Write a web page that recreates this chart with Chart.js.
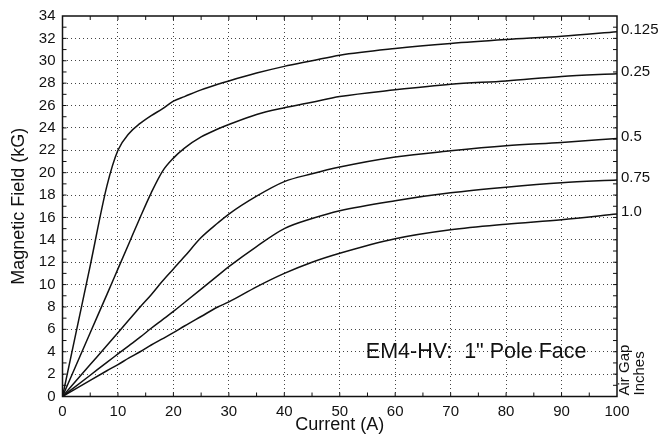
<!DOCTYPE html>
<html>
<head>
<meta charset="utf-8">
<script src="https://cdn.jsdelivr.net/npm/chart.js@4.4.0/dist/chart.umd.min.js"></script>
<style>
  html, body { margin: 0; padding: 0; background: #fff; }
  #chart { display: block; }
</style>
</head>
<body>
<canvas id="chart" width="666" height="436"></canvas>
<script>
// air gap (inches) for each curve
const gapLabels = ['0.125', '0.25', '0.5', '0.75', '1.0'];

// coil current (A)
const current = [0, 5, 8, 10, 12, 14, 16, 18, 20, 22, 25, 28, 30, 35, 40, 45, 50, 60, 70, 80, 90, 100];

// magnetic field (kG)
const field0125 = [0, 11.7, 18.8, 22.0, 23.5, 24.4, 25.1, 25.7, 26.4, 26.8, 27.4, 27.9, 28.2, 28.9, 29.5, 30.0, 30.5, 31.1, 31.55, 31.9, 32.2, 32.6];
const field025  = [0, 5.7, 9.1, 11.4, 13.7, 16.0, 18.2, 20.1, 21.3, 22.2, 23.2, 23.9, 24.3, 25.2, 25.8, 26.3, 26.8, 27.4, 27.9, 28.2, 28.6, 28.85];
const field05   = [0, 2.85, 4.55, 5.7, 6.85, 8.0, 9.1, 10.3, 11.4, 12.5, 14.2, 15.5, 16.3, 17.9, 19.2, 19.9, 20.5, 21.4, 21.95, 22.4, 22.7, 23.05];
const field075  = [0, 1.9, 3.05, 3.8, 4.55, 5.3, 6.1, 6.85, 7.6, 8.4, 9.6, 10.8, 11.6, 13.4, 15.0, 15.9, 16.6, 17.5, 18.2, 18.7, 19.1, 19.35];
const field10   = [0, 1.45, 2.3, 2.85, 3.45, 4.0, 4.6, 5.15, 5.7, 6.3, 7.15, 8.0, 8.45, 9.8, 11.0, 12.0, 12.8, 14.1, 14.9, 15.4, 15.8, 16.3];

const allFields = [field0125, field025, field05, field075, field10];

const FONT = 'Liberation Sans, Arial, sans-serif';

function toPoints(ys) {
  return current.map((x, i) => ({ x: x, y: ys[i] }));
}

const datasets = allFields.map((ys, i) => ({
  label: gapLabels[i],
  data: toPoints(ys),
  borderColor: '#111',
  borderWidth: 1.5,
  pointRadius: 0,
  fill: false,
  cubicInterpolationMode: 'monotone'
}));

// white background, frame with inside ticks, right-hand labels and the note
const decorations = {
  id: 'decorations',
  beforeDraw(chart) {
    const ctx = chart.ctx;
    ctx.save();
    ctx.fillStyle = '#fff';
    ctx.fillRect(0, 0, chart.width, chart.height);
    ctx.restore();
  },
  afterDraw(chart) {
    const ctx = chart.ctx;
    const a = chart.chartArea;
    const xs = chart.scales.x;
    const ys = chart.scales.y;
    ctx.save();

    // frame
    ctx.strokeStyle = '#111';
    ctx.lineWidth = 1.5;
    ctx.strokeRect(a.left, a.top, a.right - a.left, a.bottom - a.top);

    // inner tick marks
    ctx.lineWidth = 1;
    ctx.beginPath();
    for (let v = 5; v < 100; v += 5) {
      const px = xs.getPixelForValue(v);
      ctx.moveTo(px, a.bottom); ctx.lineTo(px, a.bottom - 4);
      ctx.moveTo(px, a.top); ctx.lineTo(px, a.top + 4);
    }
    for (let v = 1; v < 34; v += 1) {
      const py = ys.getPixelForValue(v);
      ctx.moveTo(a.left, py); ctx.lineTo(a.left + 4, py);
      ctx.moveTo(a.right, py); ctx.lineTo(a.right - 4, py);
    }
    ctx.stroke();

    // air gap labels at curve ends
    ctx.fillStyle = '#111';
    ctx.font = '15px ' + FONT;
    ctx.textAlign = 'left';
    ctx.textBaseline = 'middle';
    allFields.forEach((ys2, i) => {
      const py = ys.getPixelForValue(ys2[ys2.length - 1]);
      ctx.fillText(gapLabels[i], a.right + 4, py - 2);
    });

    // rotated "Air Gap / Inches"
    ctx.save();
    ctx.translate(625, a.bottom - 1);
    ctx.rotate(-Math.PI / 2);
    ctx.fillText('Air Gap', 0, 0);
    ctx.fillText('Inches', 0, 15);
    ctx.restore();

    // note
    ctx.font = '21.5px ' + FONT;
    ctx.fillText('EM4-HV:  1" Pole Face', xs.getPixelForValue(54.7), ys.getPixelForValue(4.0));

    ctx.restore();
  }
};

function gridColor(c) {
  const v = c.tick ? c.tick.value : null;
  if (v === null || v === c.scale.min || v === c.scale.max) return 'rgba(0,0,0,0)';
  return '#444';
}

new Chart(document.getElementById('chart'), {
  type: 'line',
  data: { datasets: datasets },
  options: {
    responsive: false,
    animation: false,
    devicePixelRatio: 1,
    layout: { padding: { top: 13, right: 49, left: 0, bottom: 0 } },
    plugins: {
      legend: { display: false },
      tooltip: { enabled: false }
    },
    scales: {
      x: {
        type: 'linear',
        min: 0,
        max: 100,
        ticks: { stepSize: 10, color: '#111', font: { size: 15, family: FONT }, padding: 6, maxRotation: 0 },
        grid: { color: gridColor, drawTicks: false, lineWidth: 1 },
        border: { display: false, dash: [1, 3] },
        title: { display: true, text: 'Current (A)', color: '#111', font: { size: 18, family: FONT }, padding: { top: 0, bottom: 0 } },
        afterFit(scale) { scale.height = 39.5; }
      },
      y: {
        min: 0,
        max: 34,
        ticks: { stepSize: 2, color: '#111', font: { size: 15, family: FONT }, padding: 7 },
        grid: { color: gridColor, drawTicks: false, lineWidth: 1 },
        border: { display: false, dash: [1, 3] },
        title: { display: true, text: 'Magnetic Field (kG)', color: '#111', font: { size: 18, family: FONT }, padding: { top: 8, bottom: 0 } },
        afterFit(scale) { scale.width = 62.5; }
      }
    }
  },
  plugins: [decorations]
});
</script>
</body>
</html>
